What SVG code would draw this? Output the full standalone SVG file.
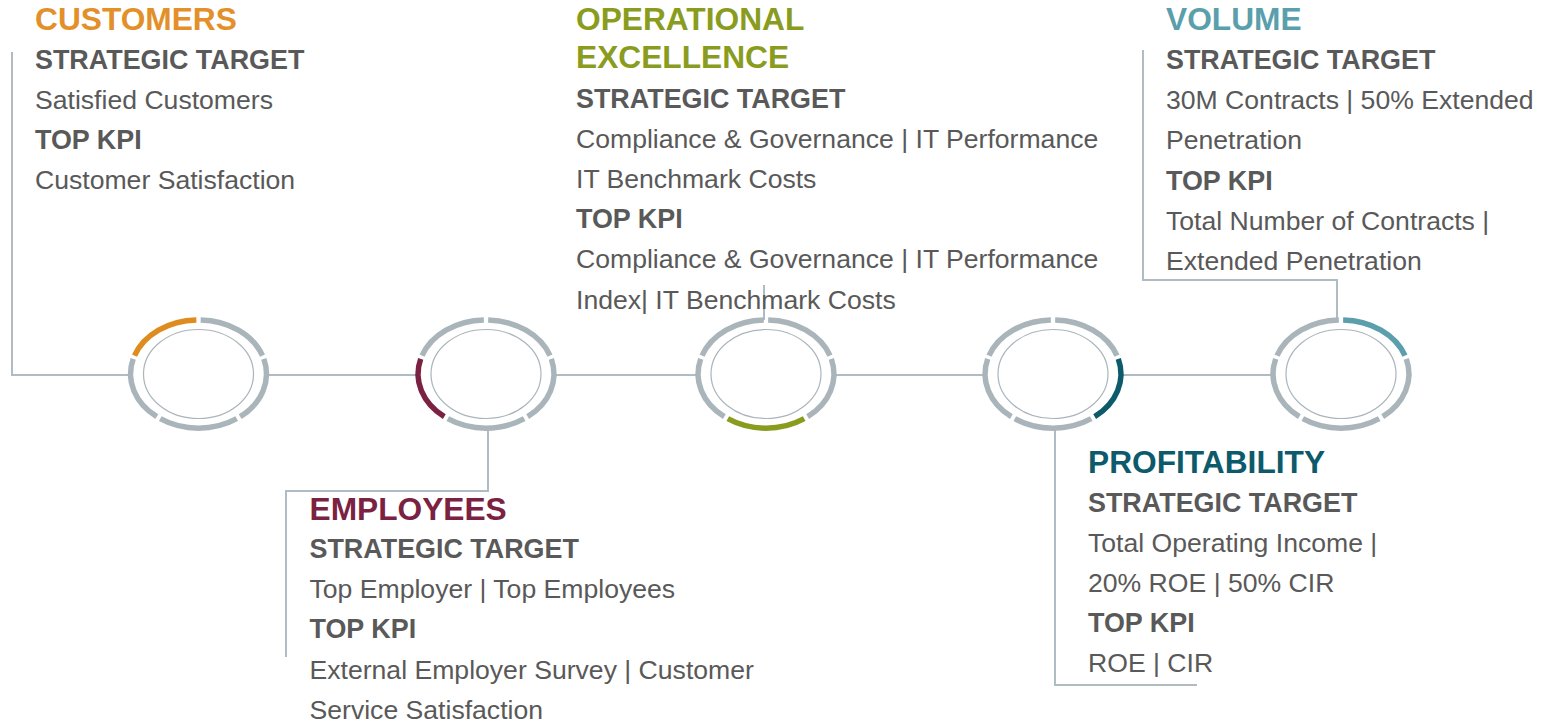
<svg xmlns="http://www.w3.org/2000/svg" xmlns:xlink="http://www.w3.org/1999/xlink" width="1547" height="722" viewBox="0 0 1547 722">
<style>
.bg{fill:#ffffff}
.conn{fill:none;stroke:#b0bcc3;stroke-width:2}
.seg{fill:none;stroke:#aab5bb;stroke-width:5.5}
.inner{fill:#ffffff;stroke:#aab5bb;stroke-width:1.2}
.h{font-family:"Liberation Sans",Arial,sans-serif;font-weight:bold;font-size:31.7px}
.b{font-family:"Liberation Sans",Arial,sans-serif;font-weight:bold;font-size:26.9px;fill:#595959}
.t{font-family:"Liberation Sans",Arial,sans-serif;font-size:26.6px;fill:#595959}
.cCust{fill:#e3902a}.sCust{stroke:#de8c1e}
.cEmp{fill:#7b2242}.sEmp{stroke:#7b2242}
.cOp{fill:#8a9c1e}.sOp{stroke:#8a9c1e}
.cProf{fill:#0d5a6b}.sProf{stroke:#0d5a6b}
.cVol{fill:#5a9fab}.sVol{stroke:#5a9fab}
</style>
<defs>
<path id="segUR" d="M63.98,-18.29 A67.5,54 0 0 0 2.14,-53.97"/>
<path id="segUL" d="M-2.14,-53.97 A67.5,54 0 0 0 -63.98,-18.29"/>
<path id="segL" d="M-65.3,-15.07 A67.5,54 0 0 0 -41.68,42.67"/>
<path id="segB" d="M-38.22,44.66 A67.5,54 0 0 0 38.22,44.66"/>
<path id="segR" d="M41.68,42.67 A67.5,54 0 0 0 65.3,-15.07"/>
</defs>
<rect class="bg" x="0" y="0" width="1547" height="722"/>
<g id="connectors">
<path class="conn" d="M12,52 V375 H129"/>
<path class="conn" d="M268,375 H417"/>
<path class="conn" d="M555,375 H697"/>
<path class="conn" d="M835,375 H984"/>
<path class="conn" d="M1122,375 H1272"/>
<path class="conn" d="M488,429 V491 H286 V657"/>
<path class="conn" d="M764,285 V320"/>
<path class="conn" d="M1055,429 V685 H1197"/>
<path class="conn" d="M1337,320 V280 H1143 V50"/>
</g>
<g id="circle-customers" transform="translate(198.5,374)">
<use href="#segUR" class="seg"/><use href="#segUL" class="seg sCust"/><use href="#segL" class="seg"/><use href="#segB" class="seg"/><use href="#segR" class="seg"/>
<ellipse class="inner" cx="0" cy="0" rx="55" ry="44.5"/>
</g>
<g id="circle-employees" transform="translate(486,374)">
<use href="#segUR" class="seg"/><use href="#segUL" class="seg"/><use href="#segL" class="seg sEmp"/><use href="#segB" class="seg"/><use href="#segR" class="seg"/>
<ellipse class="inner" cx="0" cy="0" rx="55" ry="44.5"/>
</g>
<g id="circle-operational" transform="translate(766,374)">
<use href="#segUR" class="seg"/><use href="#segUL" class="seg"/><use href="#segL" class="seg"/><use href="#segB" class="seg sOp"/><use href="#segR" class="seg"/>
<ellipse class="inner" cx="0" cy="0" rx="55" ry="44.5"/>
</g>
<g id="circle-profitability" transform="translate(1053,374)">
<use href="#segUR" class="seg"/><use href="#segUL" class="seg"/><use href="#segL" class="seg"/><use href="#segB" class="seg"/><use href="#segR" class="seg sProf"/>
<ellipse class="inner" cx="0" cy="0" rx="55" ry="44.5"/>
</g>
<g id="circle-volume" transform="translate(1341,374)">
<use href="#segUR" class="seg sVol"/><use href="#segUL" class="seg"/><use href="#segL" class="seg"/><use href="#segB" class="seg"/><use href="#segR" class="seg"/>
<ellipse class="inner" cx="0" cy="0" rx="55" ry="44.5"/>
</g>
<g id="text-customers">
<text class="h cCust" x="35" y="30">CUSTOMERS</text>
<text class="b" x="35" y="69">STRATEGIC TARGET</text>
<text class="t" x="35" y="109">Satisfied Customers</text>
<text class="b" x="35" y="149">TOP KPI</text>
<text class="t" x="35" y="189">Customer Satisfaction</text>
</g>
<g id="text-operational">
<text class="h cOp" x="576" y="30">OPERATIONAL</text>
<text class="h cOp" x="576" y="68">EXCELLENCE</text>
<text class="b" x="576" y="107.5">STRATEGIC TARGET</text>
<text class="t" x="576" y="148">Compliance &amp; Governance | IT Performance</text>
<text class="t" x="576" y="188">IT Benchmark Costs</text>
<text class="b" x="576" y="228">TOP KPI</text>
<text class="t" x="576" y="268">Compliance &amp; Governance | IT Performance</text>
<text class="t" x="576" y="308.5">Index| IT Benchmark Costs</text>
</g>
<g id="text-volume">
<text class="h cVol" x="1166" y="30">VOLUME</text>
<text class="b" x="1166" y="69">STRATEGIC TARGET</text>
<text class="t" x="1166" y="109">30M Contracts | 50% Extended</text>
<text class="t" x="1166" y="149">Penetration</text>
<text class="b" x="1166" y="189.5">TOP KPI</text>
<text class="t" x="1166" y="229.5">Total Number of Contracts |</text>
<text class="t" x="1166" y="269.5">Extended Penetration</text>
</g>
<g id="text-employees">
<text class="h cEmp" x="309.5" y="519.5">EMPLOYEES</text>
<text class="b" x="309.5" y="558">STRATEGIC TARGET</text>
<text class="t" x="309.5" y="598">Top Employer | Top Employees</text>
<text class="b" x="309.5" y="638">TOP KPI</text>
<text class="t" x="309.5" y="679">External Employer Survey | Customer</text>
<text class="t" x="309.5" y="719">Service Satisfaction</text>
</g>
<g id="text-profitability">
<text class="h cProf" x="1088" y="473">PROFITABILITY</text>
<text class="b" x="1088" y="511.5">STRATEGIC TARGET</text>
<text class="t" x="1088" y="552">Total Operating Income |</text>
<text class="t" x="1088" y="592">20% ROE | 50% CIR</text>
<text class="b" x="1088" y="632">TOP KPI</text>
<text class="t" x="1088" y="672">ROE | CIR</text>
</g>
</svg>
